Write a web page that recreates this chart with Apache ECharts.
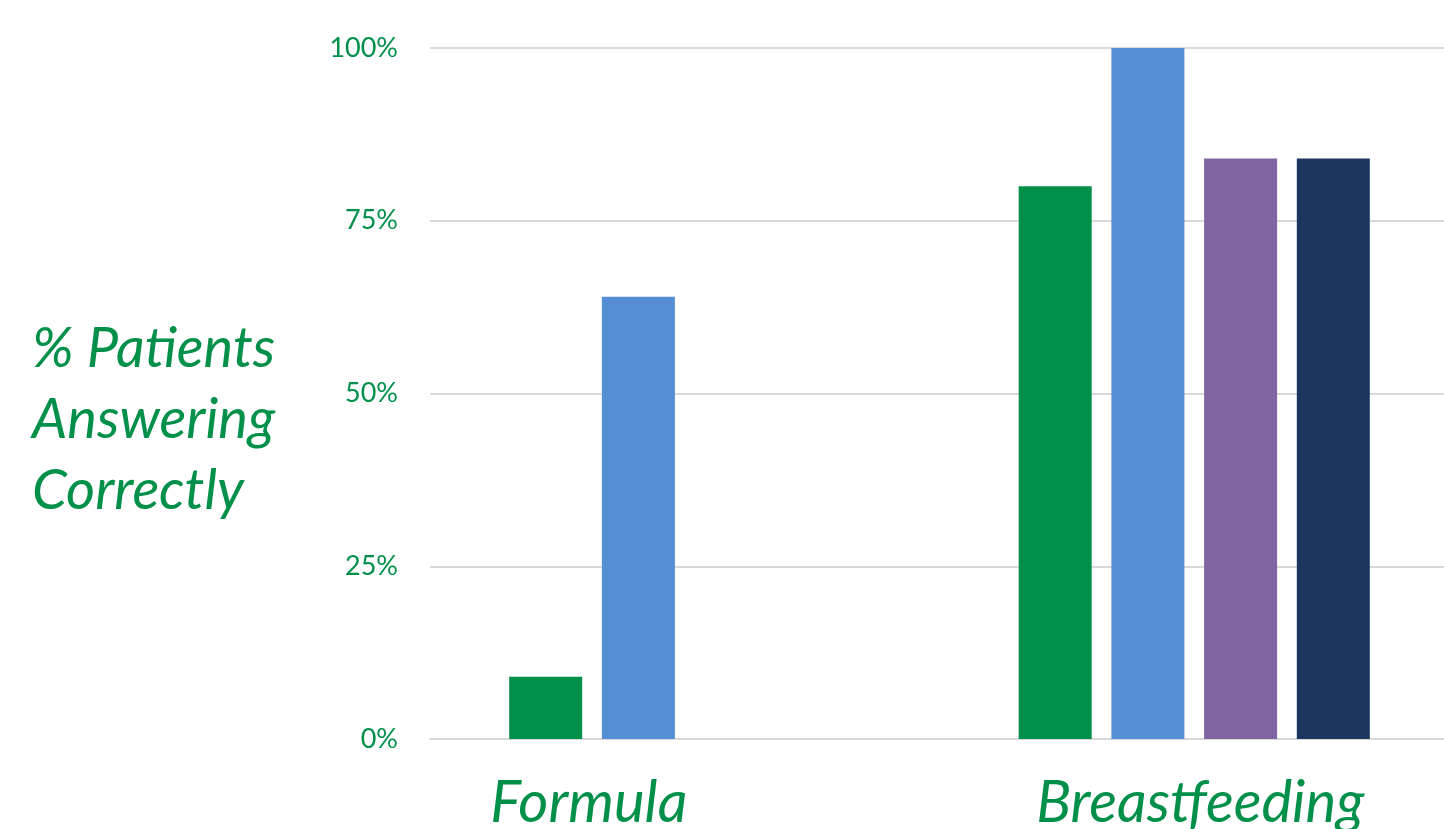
<!DOCTYPE html>
<html><head><meta charset="utf-8">
<script src="https://cdn.jsdelivr.net/npm/echarts@6/dist/echarts.min.js"></script>
<style>html,body{margin:0;padding:0;background:#fff}#c{width:1444px;height:829px}</style>
</head><body><div id="c"></div>
<script>
const categories = ['Formula', 'Breastfeeding'];
const seriesGreen = [9, 80];
const seriesBlue = [64, 100];
const seriesPurple = [null, 84];
const seriesNavy = [null, 84];
const yTicks = [0, 25, 50, 75, 100];
const yTitle = '% Patients\nAnswering\nCorrectly';

const green = '#00904A';
const chart = echarts.init(document.getElementById('c'));
const mk = (data, color) => ({
  type: 'bar', data, barWidth: 73, barGap: '27%', barCategoryGap: '31%',
  itemStyle: { color }, silent: true
});
chart.setOption({
  animation: false,
  title: {
    text: yTitle, left: 27, top: 308,
    textStyle: { color: green, fontFamily: 'Lato', fontStyle: 'italic', fontWeight: 'normal', fontSize: 56, lineHeight: 71 }
  },
  grid: { left: 430, width: 1019, top: 48, bottom: 90, containLabel: false, outerBoundsMode: 'none' },
  xAxis: {
    type: 'category', data: categories,
    axisLine: { show: true, lineStyle: { color: '#D9D9D9', width: 2 } },
    axisTick: { show: false },
    axisLabel: {
      margin: 35,
      formatter: v => v === 'Formula' ? '{f|' + v + '}' : '{b|' + v + '}',
      rich: {
        f: { color: green, fontFamily: 'Lato', fontStyle: 'italic', fontSize: 58, padding: [0, 192, 0, 0] },
        b: { color: green, fontFamily: 'Lato', fontStyle: 'italic', fontSize: 58, padding: [0, 0, 0, 12] }
      }
    }
  },
  yAxis: {
    type: 'value', min: 0, max: 100, interval: 25,
    axisLine: { show: false }, axisTick: { show: false },
    splitLine: { lineStyle: { color: '#D9D9D9', width: 2 } },
    axisLabel: {
      margin: 32, color: green, fontFamily: 'Lato', fontSize: 27,
      formatter: v => yTicks.includes(v) ? v + '%' : ''
    }
  },
  series: [
    mk(seriesGreen, '#00904A'),
    mk(seriesBlue, '#558ED5'),
    mk(seriesPurple, '#8064A2'),
    mk(seriesNavy, '#1B375F')
  ]
});
</script></body></html>
